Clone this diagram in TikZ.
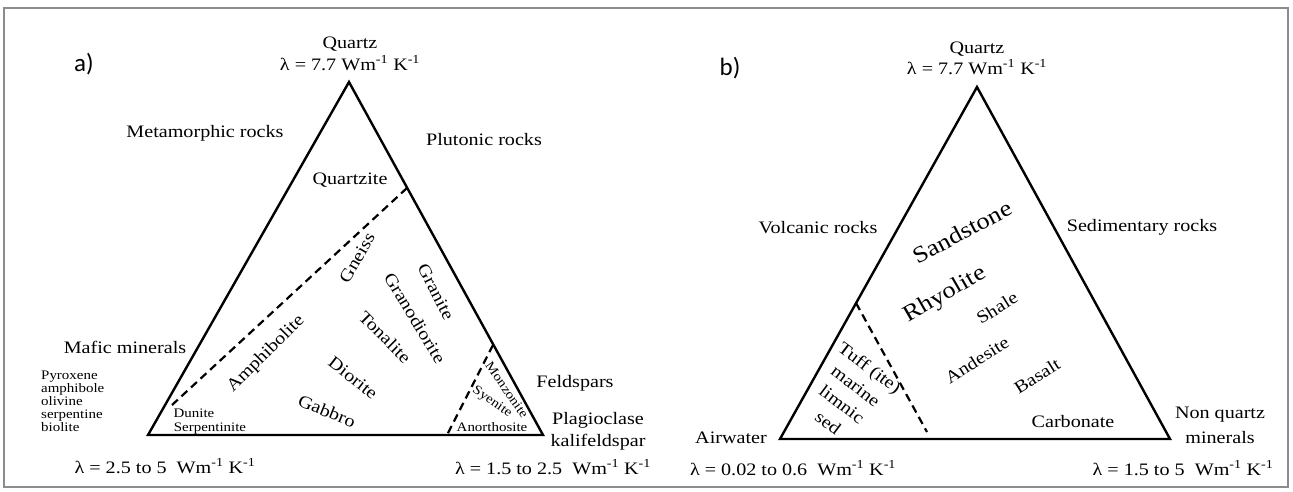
\documentclass[tikz,border=0pt]{standalone}
\usepackage{fontspec}
\setmainfont[FakeStretch=1.15]{Liberation Serif}
\newfontfamily\panelfont{Carlito}
\newcommand{\mInv}{\textsuperscript{-1}}
\tikzset{
  txt/.style={inner sep=0pt, font=\fontsize{17.5}{20}\selectfont},
  tufftxt/.style={inner sep=0pt, font=\fontsize{17.5}{23}\selectfont},
  twoline/.style={inner sep=0pt, font=\fontsize{17.5}{25}\selectfont},
  smalltxt/.style={inner sep=0pt, font=\fontsize{13}{13}\selectfont},
  bigtxt/.style={inner sep=0pt, font=\fontsize{23}{26}\selectfont},
  paneltxt/.style={inner sep=0pt, font=\panelfont\fontsize{25}{28}\selectfont},
  triedge/.style={line width=2.4pt, line join=miter},
  divide/.style={line width=2.2pt, dash pattern=on 8pt off 5pt},
  outerframe/.style={draw=black!45, line width=2pt}
}
\begin{document}
\begin{tikzpicture}[x=1pt,y=-1pt]
\useasboundingbox (0,0) rectangle (1293,491);
\draw[outerframe] (4,8) rectangle (1288,487);

% ---------- panel a ----------
\coordinate (A1) at (148,435);
\coordinate (B1) at (543,435);
\coordinate (C1) at (349,82);
\draw[triedge] (A1) -- (B1) -- (C1) -- cycle;
\coordinate (d1s) at (407,188);
\coordinate (d1e) at (172,405);
\coordinate (d2s) at (493,345);
\coordinate (d2e) at (447,435);
\draw[divide] (d1s) -- (d1e);
\draw[divide] (d2s) -- (d2e);

\node[paneltxt] (la) at (84,64) {a)};
\node[txt] (qa) at (350,44) {Quartz};
\node[txt] (qla) at (350,63) {λ = 7.7 Wm\mInv{} K\mInv};
\node[txt] (meta) at (205,133) {Metamorphic rocks};
\node[txt] (pluto) at (484,140) {Plutonic rocks};
\node[txt] (qzite) at (350,180) {Quartzite};
\node[txt,rotate=60] (gneiss) at (357,258) {Gneiss};
\node[txt,rotate=-63] (granite) at (436,292) {Granite};
\node[txt,rotate=-59] (grano) at (415,318) {Granodiorite};
\node[txt,rotate=-45] (tona) at (385,337) {Tonalite};
\node[txt,rotate=45] (amph) at (266,354) {Amphibolite};
\node[txt,rotate=-38] (dior) at (353,378) {Diorite};
\node[txt,rotate=-22] (gab) at (327,411) {Gabbro};
\node[smalltxt] (dun) at (194,413) {Dunite};
\node[smalltxt] (serp) at (210,429) {Serpentinite};
\node[smalltxt,rotate=-55] (monz) at (507,390) {Monzonite};
\node[smalltxt,rotate=-35] (sye) at (492,402) {Syenite};
\node[smalltxt] (anor) at (492,427) {Anorthosite};
\node[txt] (mafic) at (125,347) {Mafic minerals};
\node[smalltxt,align=left,anchor=north west] (pyro) at (41,371) {Pyroxene\\amphibole\\olivine\\serpentine\\biolite};
\node[txt] (feld) at (575,383) {Feldspars};
\node[txt] (plag) at (598,420) {Plagioclase};
\node[txt] (kali) at (598,442) {kalifeldspar};
\node[txt] (lla) at (165,466) {λ = 2.5 to 5\ \ Wm\mInv{} K\mInv};
\node[txt] (llb) at (553,467) {λ = 1.5 to 2.5\ \ Wm\mInv{} K\mInv};

% ---------- panel b ----------
\coordinate (A2) at (780,439);
\coordinate (B2) at (1170,439);
\coordinate (C2) at (977,87);
\draw[triedge] (A2) -- (B2) -- (C2) -- cycle;
\coordinate (d3s) at (856,303);
\coordinate (d3e) at (927,432);
\draw[divide] (d3s) -- (d3e);

\node[paneltxt] (lb) at (730,68) {b)};
\node[txt] (qb) at (977,49) {Quartz};
\node[txt] (qlb) at (977,67) {λ = 7.7 Wm\mInv{} K\mInv};
\node[txt] (volc) at (818,228) {Volcanic rocks};
\node[txt] (sedi) at (1142,227) {Sedimentary rocks};
\node[bigtxt,rotate=28] (sand) at (962,232) {Sandstone};
\node[bigtxt,rotate=30] (rhyo) at (945,295) {Rhyolite};
\node[txt,rotate=32] (shale) at (997,308) {Shale};
\node[txt,rotate=32] (ande) at (977,360) {Andesite};
\node[txt,rotate=32] (basa) at (1037,376) {Basalt};
\node[txt] (carb) at (1073,422) {Carbonate};
\node[tufftxt,rotate=-37,align=center] (tuff) at (849,395) {Tuff (ite)\\marine\\limnic\\sed};
\node[txt] (air) at (731,438) {Airwater};
\node[twoline,align=center] (nonq) at (1220,425) {Non quartz\\minerals};
\node[txt] (llc) at (793,468) {λ = 0.02 to 0.6\ \ Wm\mInv{} K\mInv};
\node[txt] (lld) at (1183,468) {λ = 1.5 to 5\ \ Wm\mInv{} K\mInv};
\end{tikzpicture}
\end{document}
